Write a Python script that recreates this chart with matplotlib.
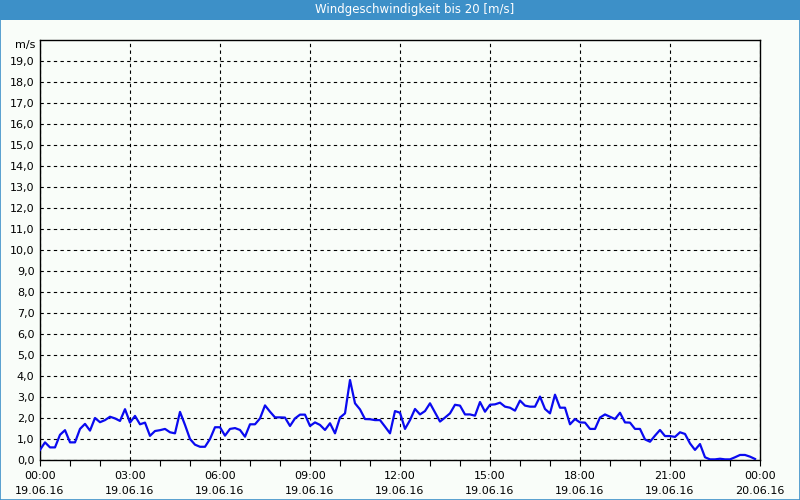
import numpy as np
import matplotlib.pyplot as plt
from matplotlib.patches import Rectangle
from matplotlib.ticker import MultipleLocator, FixedLocator, FixedFormatter

# wind speed in m/s, one value every 10 minutes from 00:00 on 19.06.16
speed = [
    0.48, 0.84, 0.60, 0.60, 1.20, 1.42, 0.84, 0.84, 1.48, 1.72,
    1.40, 2.00, 1.80, 1.90, 2.06, 1.98, 1.86, 2.42, 1.78, 2.10,
    1.70, 1.78, 1.15, 1.38, 1.42, 1.48, 1.32, 1.27, 2.29, 1.67,
    1.00, 0.73, 0.63, 0.63, 1.00, 1.56, 1.56, 1.16, 1.48, 1.52,
    1.43, 1.11, 1.70, 1.70, 1.98, 2.60, 2.30, 2.03, 2.03, 2.02,
    1.62, 1.98, 2.16, 2.16, 1.62, 1.79, 1.67, 1.43, 1.75, 1.27,
    2.02, 2.22, 3.81, 2.70, 2.41, 1.95, 1.94, 1.90, 1.90, 1.59,
    1.27, 2.33, 2.25, 1.48, 1.90, 2.43, 2.17, 2.33, 2.70, 2.27,
    1.83, 2.02, 2.22, 2.63, 2.59, 2.17, 2.17, 2.11, 2.76, 2.30,
    2.63, 2.65, 2.73, 2.54, 2.49, 2.35, 2.83, 2.59, 2.54, 2.54,
    3.02, 2.43, 2.22, 3.11, 2.49, 2.49, 1.70, 1.95, 1.79, 1.78,
    1.48, 1.48, 2.02, 2.17, 2.06, 1.95, 2.25, 1.79, 1.78, 1.48,
    1.48, 0.98, 0.87, 1.16, 1.43, 1.14, 1.14, 1.10, 1.32, 1.24,
    0.79, 0.48, 0.76, 0.13, 0.03, 0.03, 0.06, 0.03, 0.03, 0.13,
    0.24, 0.24, 0.16, 0.05,
]
hours = np.arange(len(speed)) / 6.0

tick_hours = [0, 3, 6, 9, 12, 15, 18, 21, 24]
tick_labels = ['00:00\n19.06.16', '03:00\n19.06.16', '06:00\n19.06.16',
               '09:00\n19.06.16', '12:00\n19.06.16', '15:00\n19.06.16',
               '18:00\n19.06.16', '21:00\n19.06.16', '00:00\n20.06.16']
y_ticks = list(range(0, 20))
title = 'Windgeschwindigkeit bis 20 [m/s]'

bg = '#f9fdf9'
bar = '#3d90c8'

fig = plt.figure(figsize=(8, 5), dpi=100, facecolor=bg)
ax = fig.add_axes([0.05, 0.08, 0.90, 0.84], facecolor=bg)

ax.plot(hours, speed, color='#0a0af0', lw=1.6, zorder=3)

ax.set_xlim(0, 24)
ax.set_ylim(0, 20)
ax.xaxis.set_major_locator(FixedLocator(tick_hours))
ax.xaxis.set_major_formatter(FixedFormatter(tick_labels))
ax.xaxis.set_minor_locator(MultipleLocator(1))
ax.set_yticks(y_ticks)
ax.set_yticklabels(['%d,0' % v for v in y_ticks])

ax.grid(True, which='major', color='black', linestyle=(0, (3, 3)), lw=0.8)
ax.tick_params(axis='x', which='both', direction='out', length=4, width=0.8,
               labelsize=8, pad=4)
ax.tick_params(axis='y', length=0, labelsize=8, pad=4)
for lbl in ax.get_xticklabels():
    lbl.set_linespacing(1.55)
for s in ax.spines.values():
    s.set_linewidth(1.0)
    s.set_color('black')

ax.text(-0.006, 19.75, 'm/s', transform=ax.get_yaxis_transform(),
        ha='right', va='center', fontsize=8)

# window title bar and frame
fig.patches.append(Rectangle((0, 0.96), 1, 0.04, transform=fig.transFigure,
                             facecolor=bar, edgecolor='none', zorder=0))
fig.patches.append(Rectangle((0.0006, 0.001), 0.9988, 0.998, transform=fig.transFigure,
                             facecolor='none', edgecolor=bar, lw=1.2, zorder=1))
fig.text(0.518, 0.98, title, color='white', fontsize=8.5,
         ha='center', va='center')

plt.savefig('out.png', dpi=100, facecolor=bg)
